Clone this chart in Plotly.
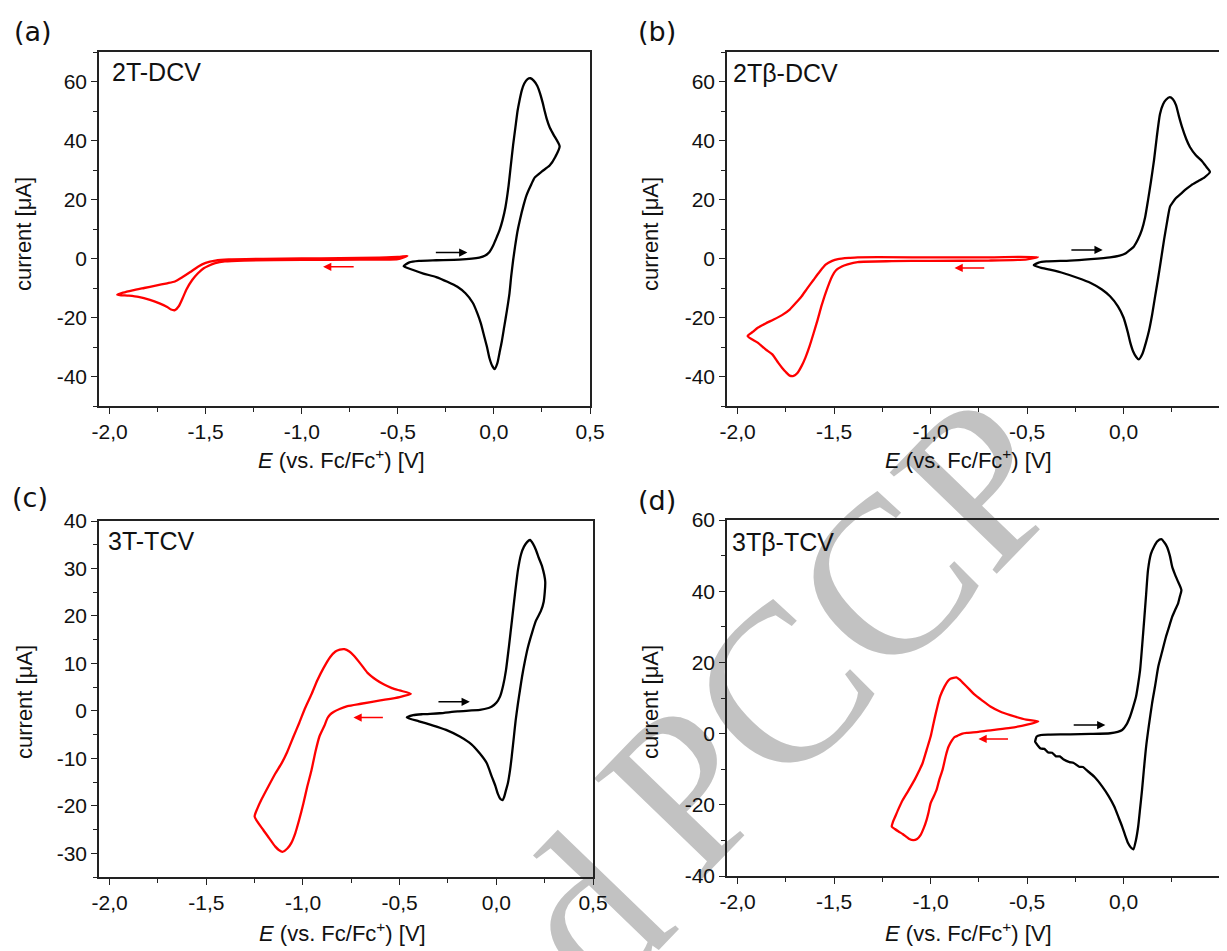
import plotly.graph_objects as go

# page body has an 8 px default margin, so the figure is 8 px smaller than the window
OFF = 8
W, H = 1227 - OFF, 951 - OFF

# ---------------- data (E in V vs Fc/Fc+, current in uA) ----------------
a_ox_E = [-0.47, -0.44, -0.39, -0.3, -0.18, -0.076, -0.045, -0.023, -0.005, 0.008, 0.029, 0.045, 0.06, 0.075, 0.087, 0.1,
          0.112, 0.123, 0.133, 0.145, 0.158, 0.175, 0.19, 0.207, 0.226, 0.24, 0.253, 0.264, 0.274, 0.29, 0.31, 0.342,
          0.32, 0.29, 0.25, 0.213, 0.19, 0.17, 0.154, 0.135, 0.122, 0.11, 0.1, 0.09, 0.081, 0.068, 0.054, 0.04, 0.029,
          0.018, 0.004, -0.008, -0.023, -0.036, -0.05, -0.068, -0.086, -0.11, -0.148, -0.19, -0.242, -0.3, -0.367,
          -0.42, -0.47]
a_ox_I = [-2.6, -1.3, -0.8, -0.6, -0.4, 0.3, 1.0, 2.2, 4.2, 6.2, 9.5, 13, 17.4, 24, 31, 38.5,
          44.5, 50, 53.5, 57, 59.3, 60.8, 61.1, 60.3, 58.5, 56, 53, 50, 47.5, 44.5, 42, 38,
          34.5, 31.5, 29.5, 27.5, 24.5, 21.5, 18, 13, 9, 4, -0.6, -6, -11.8, -17.5, -23, -28.5, -32,
          -35.5, -37.5, -36.5, -33.8, -30, -26.5, -22, -18.6, -15, -11.8, -9.6, -7.9, -6.3, -5.1,
          -3.9, -2.6]
a_red_E = [-0.45, -0.5, -0.7, -1.0, -1.3, -1.4, -1.45, -1.49, -1.51, -1.54, -1.57, -1.6, -1.62, -1.64, -1.66, -1.68,
           -1.70, -1.74, -1.79, -1.85, -1.90, -1.96,
           -1.93, -1.88, -1.82, -1.76, -1.70, -1.66, -1.62, -1.58, -1.54, -1.50, -1.45, -1.38, -1.2, -1.0, -0.8,
           -0.6, -0.5, -0.45]
a_red_I = [0.9, -0.2, -0.4, -0.5, -0.7, -1.0, -1.6, -2.6, -3.3, -5.0, -7.3, -10.5, -13.5, -16.2, -17.5, -17.3,
           -16.4, -15.2, -14.0, -13.0, -12.6, -12.3,
           -11.6, -10.8, -10.0, -9.2, -8.4, -7.8, -6.3, -4.6, -2.8, -1.5, -0.7, -0.3, -0.1, 0.0, 0.1,
           0.3, 0.5, 0.9]

b_ox_E = [-0.465, -0.44, -0.4, -0.278, -0.17, -0.07, -0.02, 0.012, 0.035, 0.054, 0.075, 0.095, 0.112, 0.127, 0.142,
          0.158, 0.172, 0.189, 0.205, 0.22, 0.24, 0.256, 0.272, 0.288, 0.303, 0.325, 0.344, 0.375, 0.407, 0.43, 0.448,
          0.42, 0.386, 0.35, 0.324, 0.295, 0.272, 0.255, 0.241, 0.226, 0.21, 0.194, 0.178, 0.162, 0.147, 0.132, 0.116,
          0.098, 0.079, 0.065, 0.05, 0.035, 0.023, 0.0, -0.029, -0.07, -0.112, -0.17, -0.236, -0.31, -0.382, -0.43,
          -0.465]
b_ox_I = [-2.3, -1.4, -1.0, -0.7, -0.2, 0.4, 1.0, 1.8, 3.0, 4.1, 6.5, 9.7, 14, 19.8, 26,
          33.3, 41, 49, 52.3, 53.8, 54.7, 54, 52, 48, 44.6, 40.5, 37.8, 35, 33, 31, 29.4,
          27.5, 26.2, 24.8, 23.5, 21.8, 20.5, 19, 17.6, 12.5, 6.3, -0.5, -7.2, -13.5, -19.5, -24.5, -28.5,
          -32.3, -34.2, -33.3, -31.5, -28.5, -25.2, -20, -16.2, -12.8, -10.5, -8.3, -6.6, -5.0, -3.8, -3.1,
          -2.3]
b_red_E = [-0.444, -0.5, -0.7, -1.0, -1.2, -1.378, -1.43, -1.46, -1.49, -1.51, -1.544, -1.565, -1.585, -1.607,
           -1.627, -1.648, -1.668, -1.69, -1.71, -1.73, -1.75, -1.77, -1.79, -1.82, -1.855, -1.896, -1.948,
           -1.92, -1.896, -1.855, -1.813, -1.77, -1.73, -1.70, -1.668, -1.64, -1.606, -1.575, -1.544, -1.51, -1.48,
           -1.42, -1.378, -1.0, -0.7, -0.444]
b_red_I = [0.5, -0.3, -0.7, -0.8, -0.9, -1.2, -2.0, -2.7, -4.0, -6.0, -11.7, -16, -20.7, -25.5,
           -29.7, -33.5, -36.4, -38.8, -39.8, -39.7, -38.5, -37, -35.3, -32.5, -30.8, -28.5, -26.3,
           -24.8, -23.5, -22, -20.7, -19.2, -17.3, -15.2, -12.8, -10.2, -7.2, -4.5, -2.1, -0.8, -0.2,
           0.2, 0.4, 0.4, 0.4, 0.5]

c_ox_E = [-0.463, -0.43, -0.38, -0.293, -0.2, -0.085, -0.04, -0.023, 0.0, 0.019, 0.035, 0.05, 0.065, 0.081, 0.096,
          0.112, 0.128, 0.143, 0.16, 0.174, 0.19, 0.205, 0.22, 0.237, 0.253,
          0.245, 0.23, 0.205, 0.185, 0.164, 0.148, 0.133, 0.122, 0.112, 0.1, 0.091, 0.08, 0.071, 0.06, 0.05, 0.04,
          0.033, 0.02, 0.008, -0.005, -0.023, -0.05, -0.085, -0.13, -0.189, -0.26, -0.334, -0.4, -0.463]
c_ox_I = [-1.4, -0.9, -0.7, -0.5, -0.1, 0.2, 0.6, 0.9, 1.7, 3, 5.3, 8.6, 13.5, 19.1, 24.5,
          29.7, 33, 34.6, 35.6, 36, 35.2, 33.9, 32.2, 30.4, 27.2,
          23, 21, 19, 16.5, 13.5, 10.5, 7.2, 4.3, 1.6, -2, -5.4, -9.5, -12.5, -15.2, -16.7, -18.2,
          -18.8, -18.5, -17.5, -15.8, -13.9, -11, -9, -7, -5.4, -4.0, -3.0, -2.2, -1.4]
c_red_E = [-0.442, -0.5, -0.6, -0.7, -0.77, -0.811, -0.84, -0.86, -0.873, -0.89, -0.915, -0.935, -0.956, -0.978,
           -0.998, -1.02, -1.04, -1.06, -1.081, -1.106, -1.125, -1.143, -1.175, -1.205, -1.25,
           -1.235, -1.216, -1.18, -1.143, -1.11, -1.081, -1.05, -1.019, -0.99, -0.956, -0.925, -0.894, -0.86,
           -0.832, -0.81, -0.786, -0.76, -0.739, -0.7, -0.666, -0.62, -0.583, -0.54, -0.5, -0.442]
c_red_I = [3.6, 2.9, 2.2, 1.5, 1.0, 0.4, -0.2, -0.8, -1.5, -3.2, -5.4, -8.5, -12.5, -16,
           -19.5, -23, -25.8, -27.8, -29, -29.7, -29.3, -28.6, -26.8, -25.1, -22.3,
           -20.5, -18.8, -16, -13.2, -11, -8.6, -5.5, -2.5, 0.5, 3.5, 6.5, 9.0, 11.3,
           12.5, 12.9, 13.0, 12.5, 11.7, 9.8, 8.0, 6.5, 5.6, 4.8, 4.3, 3.6]

d_ox_E = [-0.455, -0.45, -0.43, -0.38, -0.276, -0.17, -0.069, -0.03, -0.007, 0.015, 0.034, 0.05, 0.065, 0.076, 0.086,
          0.097, 0.107, 0.117, 0.127, 0.142, 0.158, 0.175, 0.196, 0.21, 0.225, 0.24, 0.252, 0.266, 0.279, 0.3,
          0.292, 0.283, 0.268, 0.252, 0.236, 0.22, 0.2, 0.18, 0.164, 0.148, 0.132, 0.117, 0.106, 0.096, 0.086, 0.076,
          0.064, 0.051, 0.038, 0.024, 0.008, -0.007, -0.028, -0.048, -0.078, -0.11, -0.15, -0.193, -0.21, -0.23,
          -0.26, -0.28, -0.31, -0.33, -0.35, -0.37, -0.39, -0.41, -0.43, -0.445, -0.458, -0.455]
d_ox_I = [-1.5, -0.8, -0.4, -0.3, -0.2, -0.1, 0.1, 0.5, 1.0, 2.5, 4.8, 7.5, 10.4, 14, 17.9,
          25, 31.9, 39, 46, 50.5, 52.5, 54, 54.6, 53.8, 52.5, 50, 46.9, 44.8, 43.1, 40.3,
          38.5, 36.6, 34.8, 32.8, 30, 27.2, 23, 18.8, 13.5, 8.5, 2.5, -3.7, -9.8, -15.8, -21, -26.1,
          -30, -32.5, -32, -30.8, -28.5, -26.1, -23.2, -20.5, -17.5, -14.9, -12.2, -10.2, -9.4, -9.3,
          -8.2, -8.0, -7.3, -6.4, -6.4, -5.4, -5.3, -4.3, -4.2, -3.3, -2.3, -1.5]
d_red_E = [-0.442, -0.5, -0.587, -0.68, -0.752, -0.81, -0.835, -0.86, -0.876, -0.89, -0.907, -0.92, -0.938, -0.955,
           -0.969, -0.985, -1.0, -1.01, -1.021, -1.035, -1.052, -1.07, -1.089, -1.11, -1.125, -1.145, -1.166,
           -1.185, -1.201,
           -1.195, -1.183, -1.165, -1.145, -1.115, -1.083, -1.06, -1.042, -1.02, -1.0, -0.985, -0.969, -0.95,
           -0.928, -0.91, -0.897, -0.866, -0.85, -0.835, -0.8, -0.773, -0.73, -0.69, -0.64, -0.587, -0.504, -0.442]
d_red_I = [3.4, 2.5, 1.6, 1.0, 0.5, 0.2, 0.0, -0.6, -1.0, -2.0, -3.7, -6, -10.2, -13,
           -15.8, -17.8, -19.6, -22, -24.3, -26.5, -28.5, -29.6, -29.9, -29.6, -29.0, -28.2, -27.5,
           -26.8, -26.1,
           -24.8, -23.3, -21, -18.7, -16, -13, -10.5, -8.4, -4.5, -0.9, 2.8, 6.6, 10.5,
           13.2, 14.8, 15.4, 15.8, 15.2, 14.4, 12.5, 11, 9.2, 7.6, 6.2, 5.2, 3.9, 3.4]

# scan direction arrows: [tail_E, head_E, current]
a_arrow_ox = [-0.31, -0.138, 2.0]
a_arrow_red = [-0.722, -0.889, -2.8]
b_arrow_ox = [-0.278, -0.108, 2.9]
b_arrow_red = [-0.714, -0.876, -3.2]
c_arrow_ox = [-0.307, -0.137, 1.9]
c_arrow_red = [-0.579, -0.739, -1.4]
d_arrow_ox = [-0.266, -0.094, 2.4]
d_arrow_red = [-0.591, -0.752, -1.5]

panel_letters = ["(a)", "(b)", "(c)", "(d)"]
compounds = ["2T-DCV", "2T\u03b2-DCV", "3T-TCV", "3T\u03b2-TCV"]

x_tickvals = [-2.0, -1.5, -1.0, -0.5, 0.0, 0.5]
x_ticktext = ["-2,0", "-1,5", "-1,0", "-0,5", "0,0", "0,5"]
y_ticks_ab = [-40, -20, 0, 20, 40, 60]
y_ticks_c = [-30, -20, -10, 0, 10, 20, 30, 40]
y_ticks_d = [-40, -20, 0, 20, 40, 60]

# ---------------- layout helpers (window pixel -> paper) ----------------
def px(x):
    return (x - OFF) / W

def py(y):
    return 1 - (y - OFF) / H

FONT = "Liberation Sans, Arial, sans-serif"
BLACK = "#000000"
RED = "#ff0000"
AXC = "#222222"
TXT = "#111111"

panels = [
    dict(E=(a_ox_E, a_red_E), I=(a_ox_I, a_red_I), arrows=(a_arrow_ox, a_arrow_red),
         xd=(99, 590), yd=(52, 406), yr=[-50, 70], yt=y_ticks_ab, ym=10,
         lab=(12, 31), comp=(110, 72), ytit=(24, 234), xtit=(341, 459)),
    dict(E=(b_ox_E, b_red_E), I=(b_ox_I, b_red_I), arrows=(b_arrow_ox, b_arrow_red),
         xd=(727, 1220), yd=(52, 406), yr=[-50, 70], yt=y_ticks_ab, ym=10,
         lab=(636, 31), comp=(731, 73), ytit=(651, 234), xtit=(968, 459)),
    dict(E=(c_ox_E, c_red_E), I=(c_ox_I, c_red_I), arrows=(c_arrow_ox, c_arrow_red),
         xd=(99, 593), yd=(521, 877), yr=[-35, 40], yt=y_ticks_c, ym=5,
         lab=(10, 497), comp=(106, 541), ytit=(24, 702), xtit=(342, 932)),
    dict(E=(d_ox_E, d_red_E), I=(d_ox_I, d_red_I), arrows=(d_arrow_ox, d_arrow_red),
         xd=(727, 1220), yd=(520, 876), yr=[-40, 60], yt=y_ticks_d, ym=10,
         lab=(636, 500), comp=(730, 542), ytit=(650, 702), xtit=(968, 932)),
]

fig = go.Figure()
annotations = []
layout_axes = {}

for i, p in enumerate(panels):
    n = "" if i == 0 else str(i + 1)
    xa, ya = "x" + n, "y" + n
    for E, I, col in [(p["E"][1], p["I"][1], RED), (p["E"][0], p["I"][0], BLACK)]:
        fig.add_trace(go.Scatter(x=E, y=I, mode="lines", xaxis=xa, yaxis=ya,
                                 line=dict(color=col, width=2.3, shape="spline", smoothing=0.6),
                                 showlegend=False, hoverinfo="skip"))
    for arr, col in [(p["arrows"][0], BLACK), (p["arrows"][1], RED)]:
        annotations.append(dict(x=arr[1], y=arr[2], ax=arr[0], ay=arr[2], xref=xa, yref=ya,
                                axref=xa, ayref=ya, text="", showarrow=True, arrowhead=2,
                                arrowsize=1.1, arrowwidth=1.5, arrowcolor=col))
    common = dict(showline=True, linecolor=AXC, linewidth=1.5, mirror=True, showgrid=False,
                  zeroline=False, ticks="outside", ticklen=6, tickwidth=1.3, tickcolor=AXC,
                  tickfont=dict(family=FONT, size=21, color=TXT), automargin=False)
    layout_axes["xaxis" + n] = dict(
        common, domain=[px(p["xd"][0]), px(p["xd"][1])], anchor=ya, range=[-2.055, 0.5],
        tickmode="array", tickvals=x_tickvals, ticktext=x_ticktext,
        minor=dict(ticks="outside", ticklen=4, tickwidth=1.1, tickcolor=AXC, dtick=0.25, tick0=0))
    layout_axes["yaxis" + n] = dict(
        common, domain=[py(p["yd"][1]), py(p["yd"][0])], anchor=xa, range=p["yr"],
        tickmode="array", tickvals=p["yt"], ticktext=[str(v) for v in p["yt"]],
        minor=dict(ticks="outside", ticklen=4, tickwidth=1.1, tickcolor=AXC, dtick=p["ym"], tick0=0))
    annotations.append(dict(x=px(p["lab"][0]), y=py(p["lab"][1]), xref="paper", yref="paper",
                            text=panel_letters[i], showarrow=False, xanchor="left", yanchor="middle",
                            font=dict(family="DejaVu Sans", size=27, color=TXT)))
    annotations.append(dict(x=px(p["comp"][0]), y=py(p["comp"][1]), xref="paper", yref="paper",
                            text=compounds[i], showarrow=False, xanchor="left", yanchor="middle",
                            font=dict(family=FONT, size=25, color=TXT)))
    annotations.append(dict(x=px(p["ytit"][0]), y=py(p["ytit"][1]), xref="paper", yref="paper",
                            text="current [\u03bcA]", showarrow=False, textangle=-90,
                            xanchor="center", yanchor="middle",
                            font=dict(family=FONT, size=22, color=TXT)))
    annotations.append(dict(x=px(p["xtit"][0]), y=py(p["xtit"][1]), xref="paper", yref="paper",
                            text="<i>E</i> (vs. Fc/Fc<sup>+</sup>) [V]", showarrow=False,
                            xanchor="center", yanchor="middle",
                            font=dict(family=FONT, size=22, color=TXT)))

# watermark (drawn below everything)
WM_FONT = dict(family="Liberation Serif, Times New Roman, serif", size=225, color="#c2c2c2")
shapes = [
    dict(type="rect", xref="paper", yref="paper", x0=px(715), x1=px(915), y0=py(718), y1=py(518),
         line=dict(width=0), fillcolor="rgba(0,0,0,0)", layer="below",
         label=dict(text="PCCP", textangle=-46, textposition="middle center", font=WM_FONT)),
    dict(type="rect", xref="paper", yref="paper", x0=px(520), x1=px(620), y0=py(948), y1=py(848),
         line=dict(width=0), fillcolor="rgba(0,0,0,0)", layer="below",
         label=dict(text="d", textangle=-46, textposition="middle center", font=WM_FONT)),
]

fig.update_layout(
    width=W, height=H, margin=dict(l=0, r=0, t=0, b=0),
    paper_bgcolor="white", plot_bgcolor="rgba(0,0,0,0)",
    showlegend=False, annotations=annotations, shapes=shapes,
    **layout_axes,
)

fig.write_html("out.html")
